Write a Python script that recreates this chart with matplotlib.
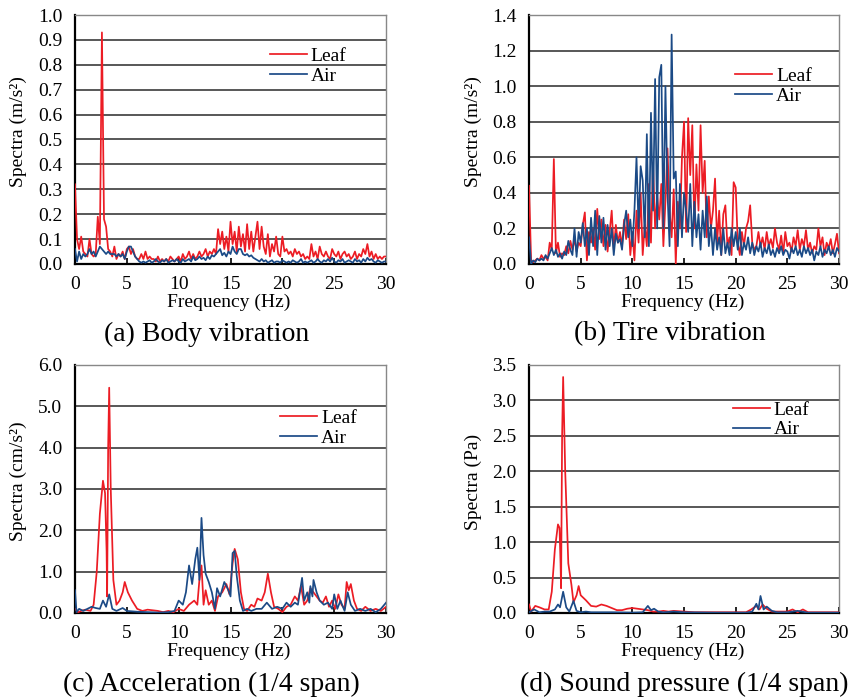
import numpy as np
import matplotlib
matplotlib.use('Agg')
import matplotlib.pyplot as plt

plt.rcParams['font.family'] = ['Liberation Serif', 'DejaVu Serif']

RED = '#ec1c24'
BLUE = '#1b4a86'

# (a) Body vibration, 0.2 Hz step
freq_ab = np.arange(0, 30.01, 0.2)
body_leaf = [0.32, 0.10, 0.06, 0.11, 0.05, 0.04, 0.03, 0.10, 0.04, 0.03,
             0.04, 0.19, 0.08, 0.93, 0.18, 0.15, 0.06, 0.05, 0.03, 0.07,
             0.02, 0.04, 0.03, 0.05, 0.02, 0.06, 0.07, 0.04, 0.06, 0.03,
             0.02, 0.02, 0.04, 0.02, 0.05, 0.02, 0.03, 0.02, 0.02, 0.01,
             0.03, 0.01, 0.02, 0.01, 0.02, 0.01, 0.03, 0.02, 0.01, 0.02,
             0.03, 0.01, 0.04, 0.02, 0.03, 0.05, 0.02, 0.04, 0.02, 0.03,
             0.05, 0.03, 0.04, 0.06, 0.03, 0.05, 0.04, 0.06, 0.04, 0.14,
             0.08, 0.13, 0.06, 0.11, 0.05, 0.17, 0.08, 0.13, 0.05, 0.15,
             0.07, 0.12, 0.05, 0.16, 0.06, 0.13, 0.05, 0.11, 0.17, 0.06,
             0.15, 0.07, 0.04, 0.12, 0.03, 0.08, 0.05, 0.11, 0.04, 0.03,
             0.11, 0.05, 0.06, 0.04, 0.05, 0.03, 0.06, 0.04, 0.05, 0.03,
             0.04, 0.02, 0.03, 0.02, 0.08, 0.03, 0.05, 0.02, 0.07, 0.04,
             0.03, 0.05, 0.03, 0.02, 0.06, 0.04, 0.03, 0.05, 0.02, 0.04,
             0.05, 0.03, 0.04, 0.02, 0.03, 0.05, 0.02, 0.04, 0.03, 0.06,
             0.04, 0.08, 0.03, 0.05, 0.02, 0.04, 0.02, 0.03, 0.02, 0.03,
             0.03]
body_air = [0.06, 0.01, 0.05, 0.02, 0.04, 0.03, 0.04, 0.06, 0.04, 0.05,
            0.03, 0.05, 0.07, 0.06, 0.05, 0.04, 0.05, 0.04, 0.04, 0.04,
            0.03, 0.04, 0.03, 0.04, 0.02, 0.05, 0.07, 0.07, 0.05, 0.03,
            0.02, 0.01, 0.005, 0.01, 0.005, 0.01, 0.015, 0.005, 0.01, 0.02,
            0.01, 0.005, 0.015, 0.01, 0.02, 0.005, 0.01, 0.015, 0.01, 0.02,
            0.01, 0.005, 0.02, 0.01, 0.015, 0.02, 0.01, 0.03, 0.015, 0.02,
            0.03, 0.02, 0.025, 0.015, 0.03, 0.02, 0.035, 0.03, 0.04, 0.05,
            0.06, 0.035, 0.045, 0.03, 0.05, 0.04, 0.07, 0.05, 0.04, 0.06,
            0.06, 0.04, 0.035, 0.04, 0.03, 0.035, 0.025, 0.02, 0.015, 0.01,
            0.02, 0.01, 0.015, 0.005, 0.01, 0.015, 0.005, 0.01, 0.01, 0.005,
            0.015, 0.01, 0.005, 0.01, 0.005, 0.015, 0.01, 0.005, 0.01, 0.02,
            0.005, 0.01, 0.005, 0.01, 0.015, 0.005, 0.01, 0.02, 0.01, 0.005,
            0.015, 0.01, 0.02, 0.01, 0.025, 0.01, 0.005, 0.015, 0.01, 0.02,
            0.005, 0.01, 0.015, 0.01, 0.005, 0.02, 0.01, 0.015, 0.005, 0.02,
            0.01, 0.025, 0.015, 0.02, 0.01, 0.005, 0.015, 0.01, 0.005, 0.01,
            0.01]

# (b) Tire vibration, 0.2 Hz step
tire_leaf = [0.44, 0.02, 0.01, 0.02, 0.03, 0.02, 0.05, 0.03, 0.04, 0.02,
             0.12, 0.08, 0.59, 0.06, 0.12, 0.04, 0.06, 0.05, 0.10, 0.06,
             0.13, 0.08, 0.14, 0.07, 0.12, 0.10, 0.22, 0.29, 0.02, 0.18,
             0.12, 0.20, 0.08, 0.31, 0.14, 0.25, 0.10, 0.22, 0.07, 0.18,
             0.30, 0.08, 0.22, 0.12, 0.18, 0.10, 0.25, 0.14, 0.28, 0.05,
             0.18, 0.02, 0.30, 0.12, 0.40, 0.05, 0.22, 0.10, 0.45, 0.12,
             0.57, 0.20, 0.38, 0.25, 0.45, 0.10, 0.35, 0.65, 0.30, 0.15,
             0.42, 0.00, 0.35, 0.20, 0.60, 0.80, 0.18, 0.82, 0.50, 0.78,
             0.20, 0.56, 0.30, 0.78, 0.40, 0.58, 0.15, 0.38, 0.20, 0.30,
             0.48, 0.12, 0.30, 0.05, 0.28, 0.33, 0.10, 0.15, 0.05, 0.46,
             0.43, 0.12, 0.05, 0.18, 0.10, 0.20, 0.24, 0.33, 0.12, 0.08,
             0.10, 0.18, 0.10, 0.15, 0.08, 0.18, 0.10, 0.14, 0.09, 0.20,
             0.12, 0.08, 0.16, 0.06, 0.18, 0.10, 0.12, 0.07, 0.15, 0.10,
             0.19, 0.08, 0.14, 0.10, 0.19, 0.08, 0.12, 0.06, 0.10, 0.08,
             0.20, 0.10, 0.15, 0.05, 0.12, 0.09, 0.14, 0.06, 0.11, 0.17,
             0.06]
tire_air = [0.15, 0.00, 0.02, 0.01, 0.03, 0.02, 0.03, 0.02, 0.05, 0.03,
            0.06, 0.09, 0.05, 0.08, 0.04, 0.06, 0.03, 0.07, 0.05, 0.13,
            0.08, 0.05, 0.20, 0.04, 0.18, 0.12, 0.23, 0.10, 0.20, 0.05,
            0.26, 0.10, 0.30, 0.05, 0.27, 0.12, 0.26, 0.08, 0.22, 0.10,
            0.20, 0.05, 0.17, 0.12, 0.14, 0.08, 0.22, 0.30, 0.15, 0.25,
            0.10, 0.30, 0.60, 0.20, 0.55, 0.47, 0.15, 0.73, 0.10, 0.85,
            0.30, 1.04, 0.20, 1.05, 1.12, 0.20, 1.00, 0.40, 0.10, 1.29,
            0.48, 0.52, 0.10, 0.45, 0.15, 0.40, 0.30, 0.18, 0.45, 0.10,
            0.35, 0.15, 0.28, 0.08, 0.30, 0.15, 0.38, 0.10, 0.22, 0.05,
            0.20, 0.08, 0.15, 0.05, 0.20, 0.06, 0.12, 0.05, 0.20, 0.10,
            0.18, 0.08, 0.20, 0.05, 0.12, 0.08, 0.15, 0.06, 0.12, 0.05,
            0.10, 0.07, 0.12, 0.04, 0.09, 0.06, 0.11, 0.05, 0.08, 0.04,
            0.09, 0.06, 0.10, 0.05, 0.08, 0.07, 0.03, 0.09, 0.06, 0.10,
            0.05, 0.08, 0.04, 0.10, 0.06, 0.09, 0.05, 0.08, 0.02, 0.07,
            0.05, 0.10, 0.04, 0.08, 0.06, 0.10, 0.05, 0.08, 0.04, 0.09,
            0.07]

# (c) Acceleration (1/4 span)
acc_leaf_f = [0, 0.3, 0.6, 1.0, 1.5, 1.8, 2.1, 2.4, 2.7, 2.9, 3.05, 3.1, 3.2, 3.3,
              3.45, 3.7, 4.0, 4.3, 4.6, 4.8, 5.1, 5.5, 6.0, 6.5, 7.0, 8.0, 8.5,
              9.0, 9.5, 10.0, 10.5, 11.0, 11.5, 11.8, 12.0, 12.2, 12.4, 12.6,
              12.9, 13.2, 13.5, 13.8, 14.2, 14.6, 14.9, 15.2, 15.4, 15.7, 16.0,
              16.3, 16.6, 17.0, 17.3, 17.6, 18.0, 18.3, 18.6, 18.9, 19.2, 19.6,
              20.0, 20.4, 20.8, 21.2, 21.5, 21.8, 22.1, 22.4, 22.7, 23.0, 23.3,
              23.6, 23.9, 24.2, 24.5, 24.8, 25.1, 25.4, 25.7, 26.0, 26.2, 26.4,
              26.6, 26.9, 27.2, 27.6, 28.0, 28.5, 29.0, 29.5, 30.0]
acc_leaf = [0.1, 0.02, 0.05, 0.08, 0.05, 0.2, 1.0, 2.4, 3.2, 2.9, 1.5, 0.4, 4.0, 5.45,
            3.0, 0.8, 0.2, 0.3, 0.5, 0.75, 0.5, 0.3, 0.1, 0.05, 0.08, 0.05, 0.02,
            0.05, 0.02, 0.1, 0.05, 0.2, 0.3, 0.2, 0.8, 1.15, 0.2, 0.55,
            0.2, 0.3, 0.05, 0.4, 0.5, 0.7, 0.45, 1.2, 1.55, 1.3, 0.5,
            0.1, 0.05, 0.2, 0.15, 0.35, 0.3, 0.5, 0.95, 0.5, 0.15, 0.1,
            0.02, 0.15, 0.2, 0.4, 0.3, 0.65, 0.2, 0.3, 0.6, 0.5, 0.4,
            0.3, 0.25, 0.4, 0.15, 0.3, 0.1, 0.45, 0.2, 0.1, 0.75, 0.55,
            0.7, 0.3, 0.1, 0.05, 0.15, 0.05, 0.1, 0.05, 0.15]
acc_air_f = [0, 0.15, 0.4, 0.8, 1.2, 1.6, 2.0, 2.4, 2.7, 3.0, 3.3, 3.6, 4.0, 4.6,
             5.0, 6.0, 7.0, 8.0, 9.0, 9.6, 10.0, 10.4, 10.7, 11.0, 11.3, 11.6,
             11.8, 12.0, 12.2, 12.4, 12.6, 12.9, 13.2, 13.5, 13.7, 14.0, 14.4,
             14.8, 15.0, 15.2, 15.4, 15.6, 15.9, 16.2, 16.6, 17.0, 17.5, 18.0,
             18.5, 19.0, 19.5, 20.0, 20.4, 20.8, 21.2, 21.5, 21.9, 22.1, 22.4,
             22.6, 22.7, 22.9, 23.0, 23.3, 23.6, 24.0, 24.4, 24.8, 25.0, 25.3,
             25.6, 26.0, 26.3, 26.6, 27.0, 27.5, 28.0, 28.5, 29.0, 29.5, 30.0]
acc_air = [0.55, 0.02, 0.1, 0.05, 0.1, 0.15, 0.12, 0.1, 0.3, 0.15, 0.45, 0.1, 0.05, 0.12,
           0.05, 0.03, 0.02, 0.01, 0.02, 0.05, 0.3, 0.2, 0.5, 1.15, 0.7, 1.3,
           1.58, 0.8, 2.3, 1.4, 0.95, 0.75, 0.5, 0.1, 0.6, 0.4, 0.75,
           0.55, 0.4, 1.45, 1.5, 0.9, 0.3, 0.05, 0.1, 0.05, 0.1, 0.1,
           0.25, 0.1, 0.15, 0.1, 0.25, 0.15, 0.25, 0.2, 0.85, 0.3, 0.5,
           0.25, 0.65, 0.4, 0.8, 0.5, 0.3, 0.2, 0.25, 0.1, 0.45, 0.1,
           0.3, 0.05, 0.5, 0.2, 0.05, 0.1, 0.05, 0.1, 0.02, 0.1, 0.25]

# (d) Sound pressure (1/4 span)
snd_leaf_f = [0, 0.2, 0.6, 1.0, 1.5, 1.9, 2.2, 2.5, 2.8, 2.95, 3.05, 3.1, 3.2, 3.3,
              3.5, 3.8, 4.1, 4.3, 4.6, 4.8, 5.0, 5.5, 6.0, 6.5, 7.0, 7.5, 8.0,
              8.5, 9.0, 9.5, 10.0, 10.5, 11.0, 11.5, 12.0, 12.5, 13.0, 13.5,
              14.0, 15.0, 16.0, 18.0, 20.0, 21.0, 21.5, 22.0, 22.3, 22.6, 23.0,
              23.5, 24.0, 25.0, 25.5, 26.0, 26.5, 27.0, 28.0, 30.0]
snd_leaf = [0.12, 0.02, 0.1, 0.08, 0.05, 0.05, 0.3, 0.9, 1.25, 1.2, 0.7, 0.35, 2.5, 3.33,
            2.0, 0.7, 0.4, 0.15, 0.25, 0.38, 0.25, 0.18, 0.1, 0.09, 0.12, 0.1, 0.07,
            0.04, 0.04, 0.06, 0.07, 0.06, 0.05, 0.04, 0.02, 0.02, 0.03, 0.02,
            0.03, 0.02, 0.01, 0.01, 0.01, 0.01, 0.05, 0.1, 0.05, 0.12, 0.06,
            0.02, 0.02, 0.02, 0.05, 0.01, 0.05, 0.01, 0.01, 0.01]
snd_air_f = [0, 0.5, 1.0, 1.5, 2.0, 2.5, 2.8, 3.0, 3.3, 3.6, 3.9, 4.3, 4.6, 5.0, 5.5,
             6.0, 8.0, 10.0, 11.0, 11.5, 11.8, 12.1, 12.5, 13.0, 14.0, 15.0, 18.0,
             21.0, 21.6, 22.0, 22.2, 22.4, 22.7, 23.0, 23.5, 24.0, 25.0, 26.0,
             27.0, 30.0]
snd_air = [0.01, 0.05, 0.01, 0.02, 0.02, 0.05, 0.12, 0.08, 0.3, 0.08, 0.02, 0.17, 0.03, 0.01, 0.02,
           0.01, 0.01, 0.005, 0.01, 0.1, 0.04, 0.06, 0.02, 0.01, 0.02, 0.01, 0.005,
           0.005, 0.02, 0.13, 0.05, 0.24, 0.05, 0.09, 0.03, 0.01, 0.01, 0.03,
           0.005, 0.005]

panels = [
    dict(pos=[0.0882, 0.6218, 0.366, 0.3567], f1=freq_ab, leaf=body_leaf, f2=freq_ab, air=body_air,
         ymax=1.0, ystep=0.1, ylabel='Spectra (m/s²)', leg=(0.627, 0.87),
         cap='(a) Body vibration', cx=207 / 850, cy=1 - 334 / 698),
    dict(pos=[0.6224, 0.6218, 0.3647, 0.3567], f1=freq_ab, leaf=tire_leaf, f2=freq_ab, air=tire_air,
         ymax=1.4, ystep=0.2, ylabel='Spectra (m/s²)', leg=(0.665, 0.79),
         cap='(b) Tire vibration', cx=670 / 850, cy=1 - 334 / 698),
    dict(pos=[0.0882, 0.1218, 0.366, 0.3553], f1=acc_leaf_f, leaf=acc_leaf, f2=acc_air_f, air=acc_air,
         ymax=6.0, ystep=1.0, ylabel='Spectra (cm/s²)', leg=(0.66, 0.82),
         cap='(c) Acceleration (1/4 span)', cx=211 / 850, cy=1 - 684 / 698),
    dict(pos=[0.6224, 0.1218, 0.3647, 0.3553], f1=snd_leaf_f, leaf=snd_leaf, f2=snd_air_f, air=snd_air,
         ymax=3.5, ystep=0.5, ylabel='Spectra (Pa)', leg=(0.658, 0.855),
         cap='(d) Sound pressure (1/4 span)', cx=684 / 850, cy=1 - 684 / 698),
]

fig = plt.figure(figsize=(8.5, 6.98), dpi=100)

for p in panels:
    ax = fig.add_axes(p['pos'])
    ax.plot(p['f1'], p['leaf'], color=RED, lw=1.25, label='Leaf', zorder=3)
    ax.plot(p['f2'], p['air'], color=BLUE, lw=1.25, label='Air', zorder=4)
    ax.set_xlim(0, 30)
    ax.set_ylim(0, p['ymax'])
    ax.set_xticks(np.arange(0, 31, 5))
    ax.set_yticks(np.arange(0, p['ymax'] + 1e-6, p['ystep']))
    ax.yaxis.set_major_formatter(matplotlib.ticker.FormatStrFormatter('%.1f'))
    ax.yaxis.grid(True, color='#2a2a2a', lw=1.1)
    ax.set_axisbelow(True)
    ax.tick_params(axis='x', direction='in', length=4, width=1.2, labelsize=14, pad=9)
    ax.tick_params(axis='y', length=0, labelsize=14, pad=9)
    for s in ['left', 'bottom']:
        ax.spines[s].set_color('black')
        ax.spines[s].set_linewidth(1.6)
    for s in ['top', 'right']:
        ax.spines[s].set_color('#888888')
        ax.spines[s].set_linewidth(1.0)
    ax.set_xlabel('Frequency (Hz)', fontsize=14)
    ax.xaxis.set_label_coords(0.495, -0.12)
    ax.set_ylabel(p['ylabel'], fontsize=14)
    ax.yaxis.set_label_coords(-0.153, 0.53)
    ax.legend(loc='upper left', bbox_to_anchor=p['leg'], frameon=False, fontsize=14,
              handlelength=1.9, handletextpad=0.2, labelspacing=0.12, borderaxespad=0,
              borderpad=0)
    fig.text(p['cx'], p['cy'], p['cap'], fontsize=20, ha='center', va='center')

fig.savefig('out.png', dpi=100)
